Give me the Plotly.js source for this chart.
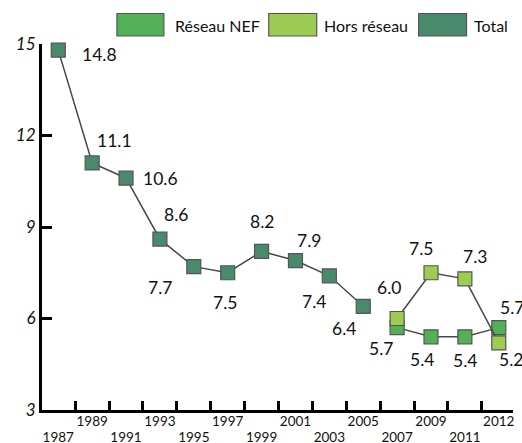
<!DOCTYPE html>
<html><head><meta charset="utf-8">
<script src="https://cdn.plot.ly/plotly-3.0.1.min.js"></script>
<style>html,body{margin:0;padding:0;background:#fff}#chart{width:522px;height:443px}</style>
</head><body><div id="chart"></div>
<script>
// ---- data ----
const years = ['1987','1989','1991','1993','1995','1997','1999','2001','2003','2005','2007','2009','2011','2012'];
const totalYears = ['1987','1989','1991','1993','1995','1997','1999','2001','2003','2005'];
const totalValues = [14.8, 11.1, 10.6, 8.6, 7.7, 7.5, 8.2, 7.9, 7.4, 6.4];
const splitYears = ['2007','2009','2011','2012'];
const nefValues = [5.7, 5.4, 5.4, 5.7];
const horsValues = [6.0, 7.5, 7.3, 5.2];
const seriesNames = ['Réseau NEF', 'Hors réseau', 'Total'];
const yTicks = [3, 6, 9, 12, 15];

// ---- style ----
const colors = {nef: '#52b056', hors: '#9ccd52', total: '#4a8a6c'};
const FONT = 'Lato, "Open Sans", sans-serif';
const totalShift = [[41,-4],[22,22],[34,0],[16,25],[-34,-21],[-3,-30],[0,30],[14,20],[-15,-26],[-19,-22]];
const nefShift = [[-16,-21],[-9,-23],[0,-24],[13,20]];
const horsShift = [[-8,31],[-10,24],[10,22],[12,-17]];

const M = {l: 42, r: 8.5, t: 44, b: 33};
const W = 522, H = 443;
const pw = W - M.l - M.r, ph = H - M.t - M.b;
const px = x => (x - M.l) / pw;
const py = y => (H - M.b - y) / ph;

function tr(x, y, name, color, xaxis) {
  return {
    type: 'scatter', mode: 'lines+markers', x: x, y: y, name: name, xaxis: xaxis, yaxis: 'y',
    line: {color: '#474747', width: 1.5},
    marker: {symbol: 'square', size: 14, color: color, line: {color: '#555', width: 1.2}},
    showlegend: false, hoverinfo: 'skip', cliponaxis: false
  };
}
const data = [
  tr(totalYears, totalValues, seriesNames[2], colors.total, 'x'),
  tr(splitYears, nefValues, seriesNames[0], colors.nef, 'x2'),
  tr(splitYears, horsValues, seriesNames[1], colors.hors, 'x2')
];

const annotations = [];
function addLabels(xs, ys, shifts, xref) {
  xs.forEach((x, i) => annotations.push({
    x: years.indexOf(x), y: ys[i], xref: xref, yref: 'y', text: ys[i].toFixed(1), showarrow: false,
    xanchor: 'center', yanchor: 'middle', xshift: shifts[i][0], yshift: shifts[i][1],
    font: {family: FONT, size: 17.5, color: '#111'}
  }));
}
addLabels(totalYears, totalValues, totalShift, 'x');
addLabels(splitYears, nefValues, nefShift, 'x2');
addLabels(splitYears, horsValues, horsShift, 'x2');

// legend (drawn as layout shapes + text)
const legendBoxes = [[117, 164], [269, 317], [419, 467]];
const legendTextX = [173, 322, 472];
const legendColors = [colors.nef, colors.hors, colors.total];
const shapes = [];
seriesNames.forEach((n, i) => {
  shapes.push({type: 'rect', xref: 'paper', yref: 'paper',
    x0: px(legendBoxes[i][0]), x1: px(legendBoxes[i][1]), y0: py(36), y1: py(13.5),
    fillcolor: legendColors[i], line: {color: '#555', width: 1.2}});
  annotations.push({xref: 'paper', yref: 'paper', x: px(legendTextX[i]), y: py(26),
    xanchor: 'left', yanchor: 'middle', text: n, showarrow: false,
    font: {family: FONT, size: 16, color: '#111'}});
});

const upper = years.map((y, i) => i % 2 === 1 ? y : '');
const lower = years.map((y, i) => i % 2 === 0 ? y : '');
const xrange = [-0.48, 13.42];

const layout = {
  width: W, height: H, margin: M, paper_bgcolor: '#fff', plot_bgcolor: '#fff',
  showlegend: false,
  font: {family: FONT, color: '#111'},
  xaxis: {
    type: 'category', categoryorder: 'array', categoryarray: years, range: xrange,
    tickmode: 'array', tickvals: years, ticktext: upper, tickson: 'boundaries', tickangle: 0,
    ticks: 'inside', ticklen: 9, tickwidth: 3, tickcolor: '#000', ticklabelstandoff: -3,
    showline: true, linewidth: 3, linecolor: '#000', showgrid: false, zeroline: false,
    tickfont: {family: FONT, size: 13.5, color: '#111'}, fixedrange: true
  },
  xaxis2: {
    type: 'category', categoryorder: 'array', categoryarray: years, range: xrange,
    overlaying: 'x', anchor: 'y', side: 'bottom', tickangle: 0,
    tickmode: 'array', tickvals: years, ticktext: lower, ticks: '', showline: false,
    showgrid: false, zeroline: false, ticklabelstandoff: 17,
    tickfont: {family: FONT, size: 13.5, color: '#111'}, fixedrange: true
  },
  yaxis: {
    range: [3, 15], tickmode: 'array', tickvals: yTicks, ticktext: yTicks.map(String),
    ticks: 'inside', ticklen: 10, tickwidth: 3, tickcolor: '#000',
    showline: true, linewidth: 3, linecolor: '#000', showgrid: false, zeroline: false,
    tickfont: {family: FONT, size: 17, color: '#111', style: 'italic'}, fixedrange: true
  },
  shapes: shapes,
  annotations: annotations
};
Plotly.newPlot('chart', data, layout, {displayModeBar: false, staticPlot: true});
</script>
</body></html>
